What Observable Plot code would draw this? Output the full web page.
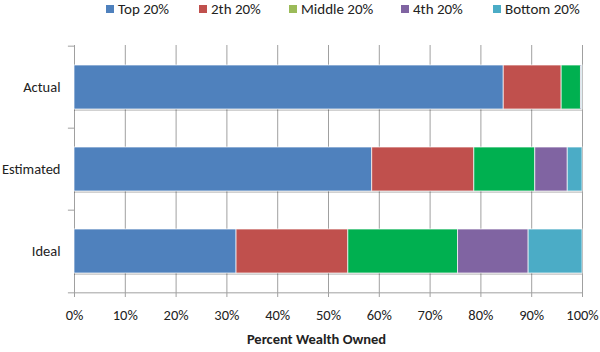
<!DOCTYPE html>
<html>
<head>
<meta charset="utf-8">
<script src="https://cdn.jsdelivr.net/npm/d3@7"></script>
<script src="https://cdn.jsdelivr.net/npm/@observablehq/plot@0.6"></script>
<style>
  html, body { margin: 0; padding: 0; background: #fff; }
  body { width: 600px; height: 352px; overflow: hidden; font-family: Carlito, Calibri, Lato, sans-serif; }
  #legend { position: relative; height: 20px; font-size: 15px; color: #222; }
  .item { position: absolute; top: 0px; display: flex; align-items: center; white-space: nowrap; }
  .sw { width: 8px; height: 8px; margin-right: 4px; }
</style>
</head>
<body>
<div id="legend"></div>
<div id="chart"></div>
<script>
const categories = ["Actual", "Estimated", "Ideal"];
const quintiles = ["Top 20%", "2th 20%", "Middle 20%", "4th 20%", "Bottom 20%"];
const actual = [84.5, 11.4, 3.8, 0.2, 0.1];
const estimated = [58.6, 20.1, 12.0, 6.4, 2.9];
const ideal = [31.9, 22.0, 21.6, 13.9, 10.6];
const xTicks = [0, 10, 20, 30, 40, 50, 60, 70, 80, 90, 100];
const barColors = ["#4F81BD", "#C0504D", "#00B050", "#8064A2", "#4BACC6"];
const legendColors = ["#4F81BD", "#C0504D", "#9BBB59", "#8064A2", "#4BACC6"];
const legendLeft = [106, 199, 289, 401, 493];

const series = {Actual: actual, Estimated: estimated, Ideal: ideal};
const data = [];
for (const c of categories) quintiles.forEach((q, i) => data.push({category: c, quintile: q, value: series[c][i]}));

// legend
const leg = document.getElementById("legend");
quintiles.forEach((q, i) => {
  const it = document.createElement("div");
  it.className = "item";
  it.style.left = legendLeft[i] + "px";
  it.innerHTML = `<span class="sw" style="background:${legendColors[i]}"></span><span>${q}</span>`;
  leg.appendChild(it);
});

const step = 248 / 3;
const font = "Carlito, Calibri, Lato, sans-serif";
const fs = 14.5;

const chart = Plot.plot({
  width: 600,
  height: 332,
  marginTop: 25,
  marginBottom: 59,
  marginLeft: 74,
  marginRight: 18,
  style: {fontFamily: font, fontSize: fs + "px", color: "#222", background: "#fff"},
  x: {domain: [0, 100], axis: null},
  y: {domain: categories, padding: 0, axis: null},
  color: {domain: quintiles, range: barColors},
  marks: [
    Plot.gridX(xTicks, {stroke: "#a0a0a0", strokeOpacity: 1, strokeWidth: 1}),
    Plot.ruleX([0], {stroke: "#a0a0a0"}),
    Plot.ruleY(categories, {y: d => d, dy: -step / 2, x1: -1.2, x2: 0, stroke: "#a0a0a0"}),
    Plot.ruleY([categories[categories.length - 1]], {y: d => d, dy: step / 2, x1: -1.2, x2: 100, stroke: "#a0a0a0"}),
    Plot.axisX(xTicks, {tickSize: 4, tickPadding: 12, stroke: "#a0a0a0", tickFormat: d => d + "%", fontSize: fs, fill: "#222", label: null}),
    Plot.axisY(categories, {tickSize: 0, tickPadding: 14, fontSize: fs, fill: "#222", label: null}),
    Plot.barX(categories.map(c => ({category: c, total: d3.sum(series[c])})), {
      x: "total", y: "category", fill: "#000", fillOpacity: 0.18, dy: 2, insetTop: 19, insetBottom: 19
    }),
    Plot.barX(data, Plot.stackX({
      x: "value", y: "category", fill: "quintile", order: quintiles,
      insetTop: 19, insetBottom: 19, stroke: "#ffffff", strokeOpacity: 0.7, strokeWidth: 1
    })),
    Plot.text(["Percent Wealth Owned"], {frameAnchor: "bottom", dy: 50, dx: -12, fontWeight: "bold", fontSize: fs, fill: "#222"})
  ]
});
document.getElementById("chart").appendChild(chart);
</script>
</body>
</html>
